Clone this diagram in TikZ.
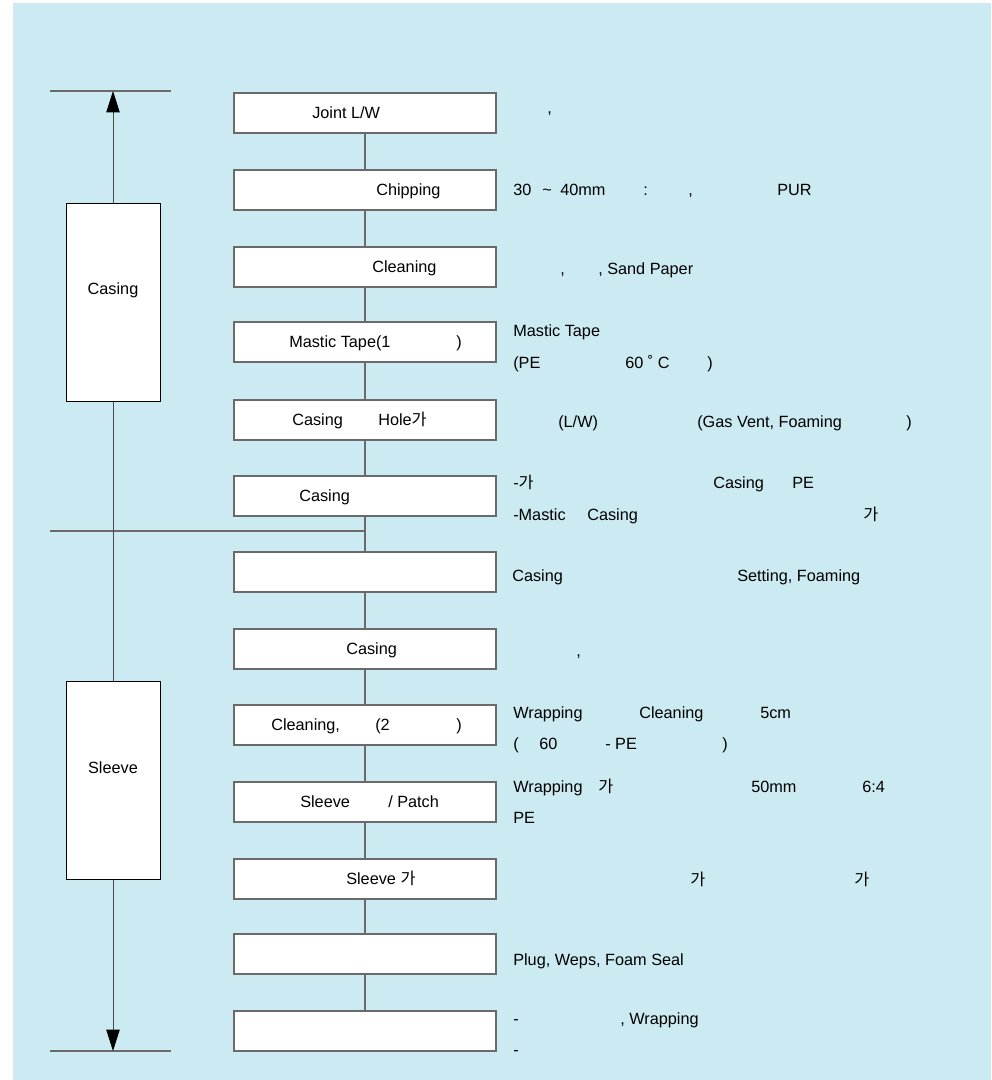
\documentclass[tikz,border=0pt]{standalone}
\usepackage{fontspec}
\setmainfont{Liberation Sans}
\newfontfamily\kr{Noto Sans CJK KR}
\usetikzlibrary{arrows.meta}
\definecolor{skyback}{RGB}{203,234,241}
\definecolor{boxline}{RGB}{106,106,106}

\begin{document}
\begin{tikzpicture}
    [x=0.75pt, y=-0.75pt,
    every node/.style={font=\fontsize{12.2}{14}\selectfont},
    stage/.style={draw=boxline, line width=1.5pt, fill=white,
      minimum width=197pt, minimum height=30pt, inner sep=0pt},
    phase/.style={draw=black, line width=0.6pt, fill=white,
      minimum width=70.5pt, minimum height=149pt, inner sep=0pt},
    txt/.style={anchor=mid west, inner sep=0pt, yshift=-1.5pt},
    link/.style={draw=boxline, line width=1.5pt},
    limit/.style={draw=boxline, line width=1.5pt},
    span/.style={draw=boxline!70!black, line width=0.6pt,
      -{Triangle[length=16pt,width=10pt,color=black]}}]
  \useasboundingbox (0,0) rectangle (991,1080);
  \fill [skyback] (13,3) rectangle (991,1080);

  % process steps
  \foreach \y [count=\k] in {113,190,267,342,420,496,572,649,725,802,879,954,1031}
    \node [stage] (s\k) at (365,\y) {};
  \foreach \i in {1,...,12} {
    \pgfmathtruncatemacro\j{\i+1}
    \draw [link] (s\i) -- (s\j);
  }

  % texts in the steps
  \foreach \x/\y/\t [count=\k] in {312/113/{Joint L/W}, 376/190/{Chipping},
      372/267/{Cleaning}, 289/342/{Mastic Tape(1}, 456/342/{)},
      292/420/{Casing}, 378/420/{Hole{\kr 가}}, 299/496/{Casing},
      346/649/{Casing}, 271/725/{Cleaning,}, 375/725/{(2}, 456/725/{)},
      300/802/{Sleeve}, 388/802/{/ Patch}, 346/879/{Sleeve {\kr 가}}}
    \node [txt] (b\k) at (\x,\y) {\t};

  % notes on the right
  \foreach \x/\y/\t [count=\k] in {547/108/{,},
      513/190/{30}, 542/190/{\textasciitilde}, 560/190/{40mm},
      643/190/{:}, 688/190/{,}, 777/190/{PUR},
      560/269/{,}, 598/269/{, Sand Paper},
      513/331/{Mastic Tape}, 513/363/{(PE}, 625/363/{60 ˚ C}, 707/363/{)},
      558/422/{(L/W)}, 697/422/{(Gas Vent, Foaming}, 906/422/{)},
      513/483/{-{\kr 가}}, 713/483/{Casing}, 792/483/{PE},
      513/515/{-Mastic}, 587/515/{Casing}, 863/515/{\kr 가},
      512/576/{Casing}, 737/576/{Setting, Foaming},
      576/651/{,},
      513/713/{Wrapping}, 639/713/{Cleaning}, 760/713/{5cm},
      513/744/{(}, 539/744/{60}, 605/744/{- PE}, 722/744/{)},
      513/787/{Wrapping}, 598/787/{\kr 가}, 751/787/{50mm}, 862/787/{6:4},
      513/818/{PE},
      690/880/{\kr 가}, 854/880/{\kr 가},
      513/960/{Plug, Weps, Foam Seal},
      513/1019/{-}, 620/1019/{, Wrapping}, 513/1050/{-}}
    \node [txt] (r\k) at (\x,\y) {\t};

  % casing / sleeve ranges
  \node [phase] (casebox) at (113,302.5) {};
  \node [yshift=-1.5pt] (casetxt) at (113,288) {Casing};
  \node [phase] (sleevebox) at (113,780.5) {};
  \node [yshift=-1.5pt] (sleevetxt) at (113,766) {Sleeve};

  \coordinate (topl) at (50,91);
  \coordinate (topr) at (171,91);
  \coordinate (botl) at (50,1051);
  \coordinate (botr) at (171,1051);
  \coordinate (split) at (50,531);

  \draw [limit] (topl) -- (topr);
  \draw [limit] (botl) -- (botr);
  \draw [limit] (split) -- (split -| s6.south);
  \draw [span] (casebox.north) -- (casebox.north |- topl);
  \draw [span, -] (casebox.south) -- (sleevebox.north);
  \draw [span] (sleevebox.south) -- (sleevebox.south |- botl);
\end{tikzpicture}
\end{document}
